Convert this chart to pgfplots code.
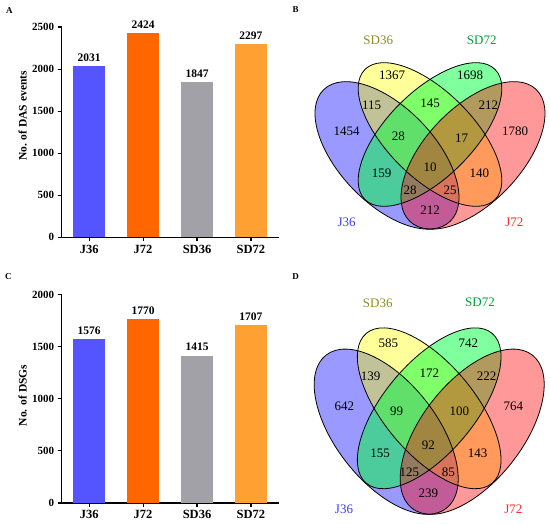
\documentclass[border=0pt]{standalone}
\usepackage{pgfplots}
\pgfplotsset{compat=1.18}
\usepackage{fontspec}
\setmainfont{Liberation Serif}
\definecolor{cJ36}{RGB}{85,85,255}
\definecolor{cJ72}{RGB}{255,102,0}
\definecolor{cSD36}{RGB}{162,161,167}
\definecolor{cSD72}{RGB}{255,160,50}
\definecolor{vblue}{RGB}{0,0,255}
\definecolor{vyellow}{RGB}{255,255,0}
\definecolor{vgreen}{RGB}{0,255,60}
\definecolor{vred}{RGB}{255,0,0}
\definecolor{lSD36}{RGB}{140,140,40}
\definecolor{lSD72}{RGB}{0,160,60}
\definecolor{lJ36}{RGB}{60,60,255}
\definecolor{lJ72}{RGB}{255,40,40}
\pgfplotsset{
  mybars/.style={
    scale only axis, width=217.3pt,
    xmin=-0.51, xmax=3.52, ymin=0,
    axis x line*=bottom, axis y line*=left,
    axis line style={line width=1.1pt},
    xtick={0,1,2,3}, xticklabels={J36,J72,SD36,SD72},
    tick align=outside, tick style={black, line width=1.1pt},
    major tick length=4pt,
    yticklabel style={font=\bfseries\fontsize{11}{13}\selectfont},
    xticklabel style={font=\bfseries\fontsize{12.5}{14}\selectfont},
    /pgf/number format/assume math mode=true,
    /pgf/number format/1000 sep={},
    scaled y ticks=false,
    ybar, bar width=32pt,
    nodes near coords,
    every node near coord/.append style={font=\bfseries\fontsize{11.5}{13}\selectfont, black, yshift=1pt},
  },
  vennnum/.style={only marks, mark=none, nodes near coords, point meta=explicit symbolic,
    every node near coord/.append style={anchor=center, font=\fontsize{13}{14}\selectfont, black, inner sep=0pt}},
}
\begin{document}
\begin{tikzpicture}
\path[use as bounding box] (0pt,0pt) rectangle (550pt,524pt);
\node[font=\bfseries\fontsize{9}{10}\selectfont, inner sep=0pt] at (9.3pt,513.3pt) {A};
\node[font=\bfseries\fontsize{9}{10}\selectfont, inner sep=0pt] at (295.7pt,514pt) {B};
\node[font=\bfseries\fontsize{9}{10}\selectfont, inner sep=0pt] at (8.3pt,247pt) {C};
\node[font=\bfseries\fontsize{9}{10}\selectfont, inner sep=0pt] at (295.7pt,247pt) {D};

\begin{axis}[mybars, at={(61.7pt,286.7pt)}, anchor=south west, height=210.3pt,
  ymax=2500, ytick={0,500,...,2500}, ylabel={No. of DAS events},
  every axis y label/.style={at={(axis description cs:-0.1795,0.577)}, rotate=90, anchor=center, font=\bfseries\fontsize{11.5}{13}\selectfont}]
\addplot[fill=cJ36, draw=none, bar shift=0pt] coordinates {(0,2031)};
\addplot[fill=cJ72, draw=none, bar shift=0pt] coordinates {(1,2424)};
\addplot[fill=cSD36, draw=none, bar shift=0pt] coordinates {(2,1847)};
\addplot[fill=cSD72, draw=none, bar shift=0pt] coordinates {(3,2297)};
\end{axis}

\begin{axis}[mybars, at={(61.7pt,21pt)}, anchor=south west, height=208.3pt,
  ymax=2000, ytick={0,500,...,2000}, ylabel={No. of DSGs},
  every axis y label/.style={at={(axis description cs:-0.1795,0.516)}, rotate=90, anchor=center, font=\bfseries\fontsize{11.5}{13}\selectfont}]
\addplot[fill=cJ36, draw=none, bar shift=0pt] coordinates {(0,1576)};
\addplot[fill=cJ72, draw=none, bar shift=0pt] coordinates {(1,1770)};
\addplot[fill=cSD36, draw=none, bar shift=0pt] coordinates {(2,1415)};
\addplot[fill=cSD72, draw=none, bar shift=0pt] coordinates {(3,1707)};
\end{axis}

\begin{axis}[at={(275pt,524pt)}, anchor=north west, x=1pt, y=1pt, y dir=reverse,
  xmin=275, xmax=550, ymin=0, ymax=524, hide axis, clip=false]
% --- B ellipses
\fill[vblue, fill opacity=0.4, rotate around={-46.2:(axis cs:387,155.4)}] (axis cs:387,155.4) ellipse [x radius=91.3pt, y radius=47.8pt];
\fill[vyellow, fill opacity=0.4, rotate around={-45:(axis cs:430,134.5)}] (axis cs:430,134.5) ellipse [x radius=92pt, y radius=43pt];
\fill[vgreen, fill opacity=0.5, rotate around={45:(axis cs:430,134.5)}] (axis cs:430,134.5) ellipse [x radius=92pt, y radius=43pt];
\fill[vred, fill opacity=0.4, rotate around={46.2:(axis cs:473,155.4)}] (axis cs:473,155.4) ellipse [x radius=91.3pt, y radius=47.8pt];
\draw[black, line width=0.8pt, rotate around={-46.2:(axis cs:387,155.4)}] (axis cs:387,155.4) ellipse [x radius=91.3pt, y radius=47.8pt];
\draw[black, line width=0.8pt, rotate around={-45:(axis cs:430,134.5)}] (axis cs:430,134.5) ellipse [x radius=92pt, y radius=43pt];
\draw[black, line width=0.8pt, rotate around={45:(axis cs:430,134.5)}] (axis cs:430,134.5) ellipse [x radius=92pt, y radius=43pt];
\draw[black, line width=0.8pt, rotate around={46.2:(axis cs:473,155.4)}] (axis cs:473,155.4) ellipse [x radius=91.3pt, y radius=47.8pt];
% --- D ellipses
\fill[vblue, fill opacity=0.4, rotate around={-51.8:(axis cs:386.2,431.7)}] (axis cs:386.2,431.7) ellipse [x radius=97.4pt, y radius=50.2pt];
\fill[vyellow, fill opacity=0.4, rotate around={-50:(axis cs:429.2,408.3)}] (axis cs:429.2,408.3) ellipse [x radius=97.85pt, y radius=45.3pt];
\fill[vgreen, fill opacity=0.5, rotate around={50:(axis cs:429.2,408.3)}] (axis cs:429.2,408.3) ellipse [x radius=97.85pt, y radius=45.3pt];
\fill[vred, fill opacity=0.4, rotate around={51.8:(axis cs:472.2,431.7)}] (axis cs:472.2,431.7) ellipse [x radius=97.4pt, y radius=50.2pt];
\draw[black, line width=0.8pt, rotate around={-51.8:(axis cs:386.2,431.7)}] (axis cs:386.2,431.7) ellipse [x radius=97.4pt, y radius=50.2pt];
\draw[black, line width=0.8pt, rotate around={-50:(axis cs:429.2,408.3)}] (axis cs:429.2,408.3) ellipse [x radius=97.85pt, y radius=45.3pt];
\draw[black, line width=0.8pt, rotate around={50:(axis cs:429.2,408.3)}] (axis cs:429.2,408.3) ellipse [x radius=97.85pt, y radius=45.3pt];
\draw[black, line width=0.8pt, rotate around={51.8:(axis cs:472.2,431.7)}] (axis cs:472.2,431.7) ellipse [x radius=97.4pt, y radius=50.2pt];

\addplot[vennnum] table[meta=label] {
x y label
392 75.7 1367
470 75.7 1698
371.7 105 115
430 103.3 145
488.3 105 212
346.7 131.7 1454
515 131.7 1780
398.3 136.7 28
461.7 138.3 17
430 167.7 10
381.7 173.3 159
479.3 173.3 140
410 190 28
450 190 25
430 210 212
388.3 343.3 585
468.3 343.3 742
370.7 376 139
429.3 373.3 172
486.7 376 222
344.3 406.7 642
396.7 411.7 99
459.3 411.7 100
513.3 406.7 764
428.3 445 92
380 453.3 155
477.7 453.3 143
409.3 472.7 125
448.3 472.7 85
428.3 493.3 239
};
\node[lSD36, font=\fontsize{13}{14}\selectfont] at (axis cs:378.3,40) {SD36};
\node[lSD72, font=\fontsize{13}{14}\selectfont] at (axis cs:481.7,40) {SD72};
\node[lJ36, font=\fontsize{13}{14}\selectfont] at (axis cs:346.7,222.7) {J36};
\node[lJ72, font=\fontsize{13}{14}\selectfont] at (axis cs:514.3,222.7) {J72};
\node[lSD36, font=\fontsize{13}{14}\selectfont] at (axis cs:377.7,303.7) {SD36};
\node[lSD72, font=\fontsize{13}{14}\selectfont] at (axis cs:480,302) {SD72};
\node[lJ36, font=\fontsize{13}{14}\selectfont] at (axis cs:344,509) {J36};
\node[lJ72, font=\fontsize{13}{14}\selectfont] at (axis cs:513.3,509) {J72};
\end{axis}
\end{tikzpicture}
\end{document}
